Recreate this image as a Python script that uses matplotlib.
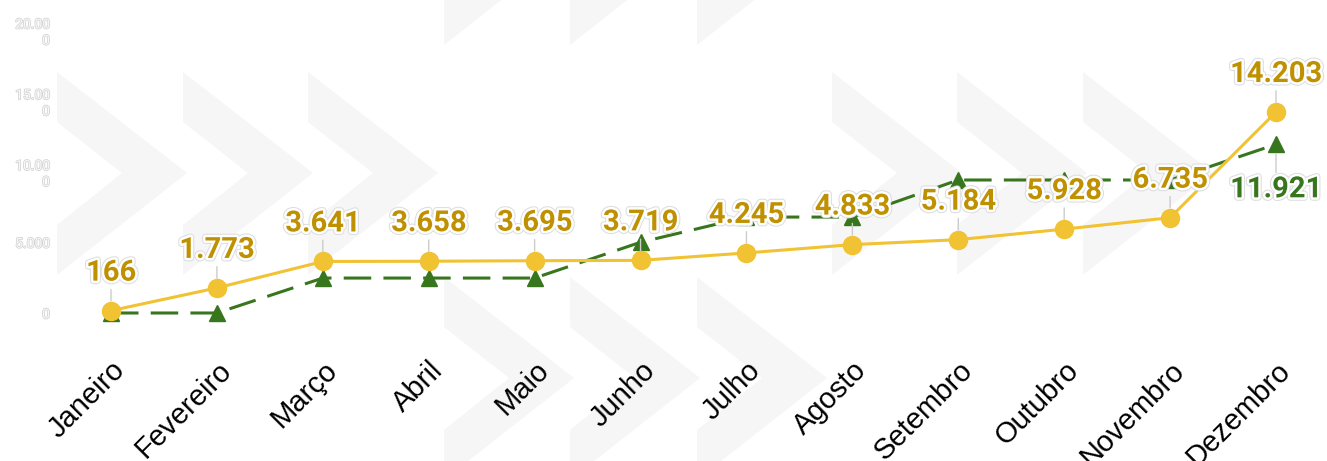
import matplotlib.pyplot as plt
import matplotlib.patheffects as pe
from matplotlib.patches import Polygon

meses = ['Janeiro', 'Fevereiro', 'Março', 'Abril', 'Maio', 'Junho',
         'Julho', 'Agosto', 'Setembro', 'Outubro', 'Novembro', 'Dezembro']
serie_amarela = [166, 1773, 3641, 3658, 3695, 3719, 4245, 4833, 5184, 5928, 6735, 14203]
serie_verde = [0, 0, 2470, 2470, 2470, 5000, 6780, 6780, 9400, 9400, 9400, 11921]
y_ticks = [0, 5000, 10000, 15000, 20000]
y_tick_labels = ['0', '5.000', '10.00\n0', '15.00\n0', '20.00\n0']

AMARELO = '#f1c232'
AMARELO_TXT = '#bf9000'
VERDE = '#38761d'


def fmt(v):
    return f'{v:,}'.replace(',', '.')


W, H = 1327, 461
fig = plt.figure(figsize=(W / 100, H / 100), dpi=100)

# chevrons claros no fundo (decoracao)
bg = fig.add_axes([0, 0, 1, 1], zorder=0)
bg.set_xlim(0, W)
bg.set_ylim(H, 0)
bg.axis('off')
chevron = [(0, 0), (130, 101), (0, 203), (0, 153), (65, 101), (0, 50)]
grupos = [(72, [57, 183, 308]), (72, [832, 957, 1083]),
          (-158, [444, 570, 697]), (277, [444, 570, 697])]
for topo, xs in grupos:
    for x0 in xs:
        bg.add_patch(Polygon([(x0 + dx, topo + dy) for dx, dy in chevron],
                             closed=True, fc='#f6f6f6', ec='none'))

ax = fig.add_axes([111 / W, (H - 313) / H, 1165 / W, 283 / H], zorder=1)
ax.patch.set_alpha(0)
x = list(range(len(meses)))

ax.plot(x, serie_verde, color=VERDE, lw=2.2, dashes=(9, 4), marker='^', ms=11,
        clip_on=False, zorder=3)
ax.plot(x, serie_amarela, color=AMARELO, lw=2.2, marker='o', ms=13,
        clip_on=False, zorder=4)

halo = [pe.Stroke(linewidth=5, foreground='#dddddd'),
        pe.Stroke(linewidth=3.5, foreground='white'), pe.Normal()]
leader = dict(arrowstyle='-', color='#cccccc', lw=1, shrinkA=0, shrinkB=7)

for i, v in enumerate(serie_amarela):
    ax.annotate(fmt(v), xy=(i, v), xytext=(0, 30), textcoords='offset pixels',
                ha='center', va='baseline', fontsize=21, fontweight='bold',
                family='Roboto', color=AMARELO_TXT, path_effects=halo,
                zorder=6, annotation_clip=False,
                arrowprops=dict(leader, relpos=(0.5, 0)))

# so o ultimo ponto verde tem rotulo
ax.annotate(fmt(serie_verde[-1]), xy=(x[-1], serie_verde[-1]), xytext=(0, -31),
            textcoords='offset pixels', ha='center', va='top', fontsize=21,
            fontweight='bold', family='Roboto', color=VERDE, path_effects=halo,
            zorder=6, annotation_clip=False,
            arrowprops=dict(leader, relpos=(0.5, 1)))

ax.set_xlim(0, len(meses) - 1)
ax.set_ylim(0, 20000)
ax.set_xticks(x)
ax.set_xticklabels(meses, rotation=45, ha='right', va='top',
                   rotation_mode='anchor', fontsize=21, family='Liberation Sans')
ax.set_yticks(y_ticks)
ax.set_yticklabels(y_tick_labels, fontsize=10, family='Roboto', color='#f8f8f8')
for lab in ax.get_yticklabels():
    lab.set_path_effects([pe.Stroke(linewidth=1.1, foreground='#d2d2d2'), pe.Normal()])
ax.tick_params(axis='x', length=0, pad=31)
ax.tick_params(axis='y', length=0, pad=44)
for s in ax.spines.values():
    s.set_visible(False)

fig.savefig('out.png', dpi=100)
